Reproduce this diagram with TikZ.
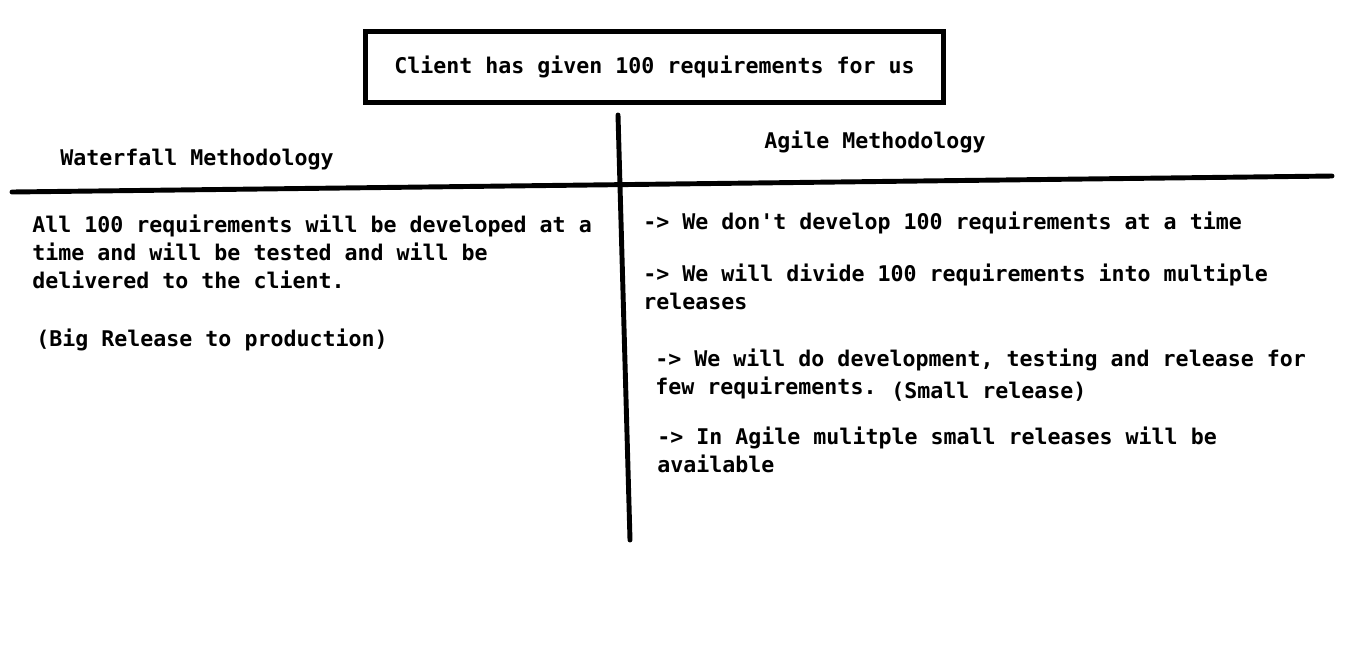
\documentclass[tikz,border=0pt]{standalone}
\usepackage{fontspec}
\setmonofont{DejaVu Sans Mono}
\begin{document}
\begin{tikzpicture}[x=0.02cm,y=-0.02cm]
   \tikzstyle{txt} = [anchor=base west, inner sep=0pt, font=\ttfamily\bfseries\fontsize{12.3}{15.9}\selectfont]
   \tikzstyle{rule} = [line width=2.8pt, line cap=round]

   \useasboundingbox (0,0) rectangle (1359,654);

      \draw
        (654.5,67) node[draw, line width=2.8pt, minimum width=11.58cm, minimum height=1.42cm, inner sep=0pt, font=\ttfamily\bfseries\fontsize{12.3}{15.9}\selectfont] (client){Client has given 100 requirements for us}
        (60,165) node[txt] (wf){Waterfall Methodology}
        (764,148) node[txt] (ag){Agile Methodology}
        (32,232) node[txt] (wf1){All 100 requirements will be developed at a}
        (32,260) node[txt] (wf2){time and will be tested and will be}
        (32,288) node[txt] (wf3){delivered to the client.}
        (36,346) node[txt] (wf4){(Big Release to production)}
        (643,229) node[txt] (ag1){-> We don't develop 100 requirements at a time}
        (643,281) node[txt] (ag2){-> We will divide 100 requirements into multiple}
        (643,309) node[txt] (ag3){releases}
        (655,366) node[txt] (ag4){-> We will do development, testing and release for}
        (655,394) node[txt] (ag5){few requirements.}
        (891,398) node[txt] (ag6){(Small release)}
        (657,444) node[txt] (ag7){-> In Agile mulitple small releases will be}
        (657,472) node[txt] (ag8){available};

   % divider lines
   \coordinate (htop) at (12,192);
   \coordinate (hend) at (1332,176);
   \coordinate (vtop) at (618,115);
   \coordinate (vend) at (630,540);
   \draw[rule] (htop) -- (hend);
   \draw[rule] (vtop) -- (vend);
\end{tikzpicture}
\end{document}
